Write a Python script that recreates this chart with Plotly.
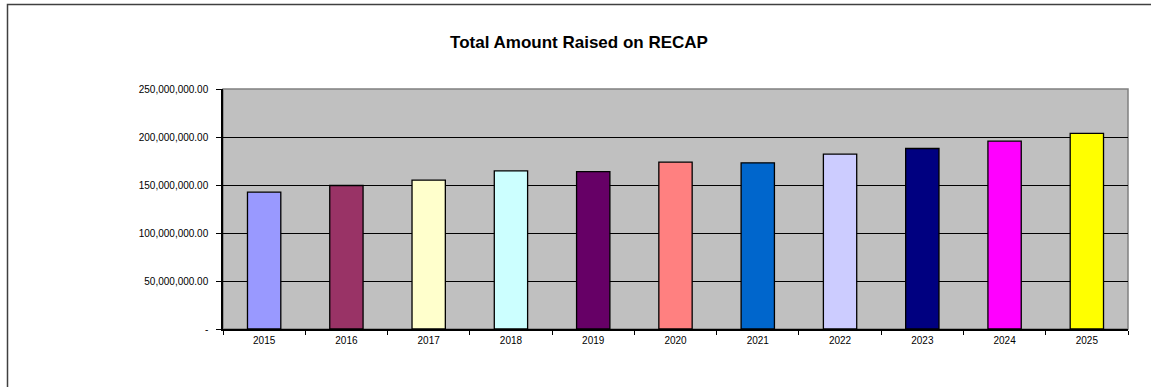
import plotly.graph_objects as go

years = ["2015", "2016", "2017", "2018", "2019", "2020", "2021", "2022", "2023", "2024", "2025"]
amounts = [142.5e6, 149.5e6, 155e6, 164.8e6, 164.0e6, 173.8e6, 173.1e6, 182.2e6, 188.0e6, 195.7e6, 203.7e6]
bar_colors = ["#9999FF", "#993366", "#FFFFCC", "#CCFFFF", "#660066", "#FF8080",
              "#0066CC", "#CCCCFF", "#000080", "#FF00FF", "#FFFF00"]
y_tick_vals = [0, 50e6, 100e6, 150e6, 200e6, 250e6]
y_tick_text = ["-", "50,000,000.00", "100,000,000.00", "150,000,000.00",
               "200,000,000.00", "250,000,000.00"]
title_text = "Total Amount Raised on RECAP"

W, H = 1151, 387
L, R, T, B = 223, 23, 89, 58
pw, ph = W - L - R, H - T - B

fig = go.Figure(go.Bar(
    x=years, y=amounts,
    marker=dict(color=bar_colors, line=dict(color="#000000", width=1.3)),
    width=0.405,
))

def px_to_paper_x(px):
    return (px - L) / pw

def px_to_paper_y(py):
    return (H - B - py) / ph

fig.update_layout(
    width=W, height=H,
    margin=dict(l=L, r=R, t=T, b=B, pad=0),
    paper_bgcolor="white",
    plot_bgcolor="#C0C0C0",
    font=dict(family="Liberation Sans, Arial, sans-serif", size=10, color="#000000"),
    showlegend=False,
    title=dict(text="<b>" + title_text + "</b>", font=dict(size=17),
               x=px_to_paper_x(579), xref="paper", xanchor="center",
               y=1 - 42 / H, yanchor="middle"),
    xaxis=dict(
        type="category", showgrid=False, showline=True, linecolor="#000000", linewidth=1.5,
        ticks="outside", tickson="boundaries", ticklen=4, tickcolor="#000000", tickwidth=1,
        ticklabelstandoff=1, zeroline=False,
    ),
    yaxis=dict(
        range=[0, 250e6], tickvals=y_tick_vals, ticktext=y_tick_text,
        showgrid=True, gridcolor="#000000", gridwidth=1,
        showline=True, linecolor="#000000", linewidth=1.5,
        ticks="outside", ticklen=5, tickcolor="#000000", tickwidth=1,
        zeroline=False, ticklabelstandoff=6,
    ),
    bargap=0.595,
    shapes=[
        # plot area border (gray top & right)
        dict(type="rect", xref="paper", yref="paper", x0=0, x1=1, y0=0, y1=1,
             line=dict(color="#808080", width=1.5), layer="below"),
        # outer chart frame
        dict(type="rect", xref="paper", yref="paper",
             x0=px_to_paper_x(7.5), x1=px_to_paper_x(1160),
             y0=px_to_paper_y(400), y1=px_to_paper_y(4.5),
             line=dict(color="#404040", width=1.5)),
    ],
)

fig.write_html("out.html", config={"displayModeBar": False},
               post_script="document.body.style.margin='0';")
